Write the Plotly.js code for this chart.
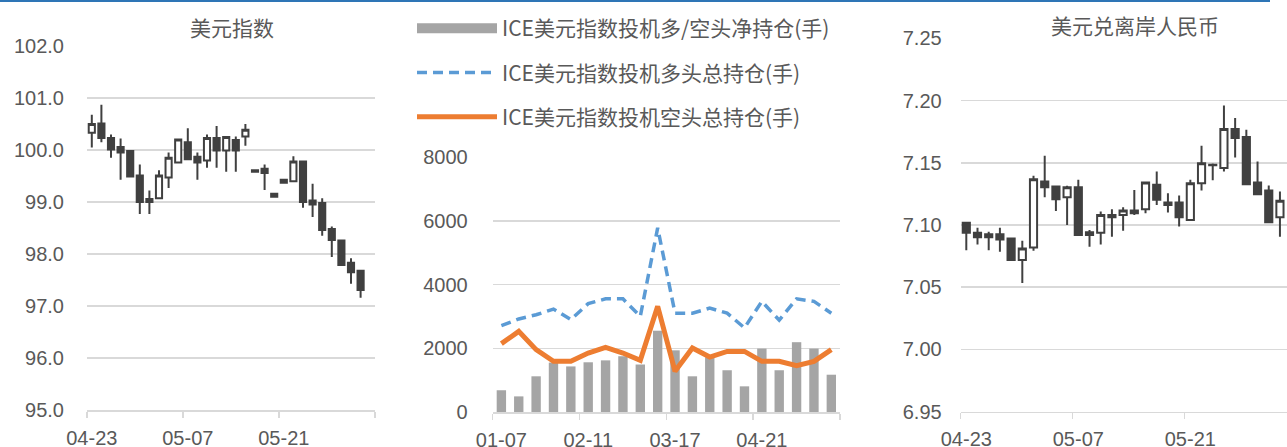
<!DOCTYPE html>
<html>
<head>
<meta charset="utf-8">
<script src="https://cdn.plot.ly/plotly-3.0.1.min.js"></script>
<style>
  html, body { margin: 0; padding: 0; background: #fff; }
  #chart { width: 1287px; height: 447px; }
</style>
</head>
<body>
<div id="chart"></div>
<script>
// daily trading dates (shared by the two candlestick panels)
const dates = ['04-23', '04-24', '04-25', '04-28', '04-29', '04-30', '05-01', '05-02', '05-05', '05-06',
    '05-07', '05-08', '05-09', '05-12', '05-13', '05-14', '05-15', '05-16', '05-19', '05-20',
    '05-21', '05-22', '05-23', '05-26', '05-27', '05-28', '05-29', '05-30', '06-02'];

// 美元指数 OHLC
const dxyOpen = [100.33, 100.51, 100.23, 100.06, 99.98, 99.51, 99.06, 99.07, 99.47, 99.76,
    100.15, 99.87, 99.80, 100.23, 99.99, 100.19, 100.26, 99.61, 99.64, 99.16,
    99.43, 99.40, 99.78, 99.03, 98.98, 98.48, 98.26, 97.83, 97.68];
const dxyHigh = [100.68, 100.87, 100.30, 100.22, 99.99, 99.72, 99.22, 99.61, 99.95, 100.20,
    100.42, 99.95, 100.30, 100.46, 100.25, 100.26, 100.50, 99.62, 99.72, 99.16,
    99.43, 99.88, 99.80, 99.35, 99.07, 98.53, 98.26, 97.92, 97.69];
const dxyLow = [100.05, 100.15, 99.85, 99.43, 99.48, 98.77, 98.77, 99.06, 99.27, 99.74,
    99.81, 99.43, 99.66, 99.66, 99.58, 99.58, 100.08, 99.57, 99.23, 99.10,
    99.37, 99.38, 98.89, 98.71, 98.35, 97.94, 97.78, 97.43, 97.16];
const dxyClose = [100.50, 100.23, 100.01, 99.95, 99.49, 99.00, 99.00, 99.51, 99.85, 100.20,
    99.82, 99.76, 100.23, 99.99, 100.25, 99.99, 100.39, 99.58, 99.56, 99.10,
    99.37, 99.78, 99.00, 98.95, 98.46, 98.27, 97.79, 97.65, 97.31];

// 美元兑离岸人民币 OHLC
const cnhOpen = [7.1019, 7.0938, 7.0925, 7.0925, 7.0892, 7.0718, 7.0820, 7.1349, 7.1309, 7.1223,
    7.1304, 7.0941, 7.0938, 7.1081, 7.1081, 7.1116, 7.1126, 7.1323, 7.1180, 7.1180,
    7.1040, 7.1336, 7.1485, 7.1457, 7.1772, 7.1707, 7.1341, 7.1277, 7.1062];
const cnhHigh = [7.1027, 7.0978, 7.0946, 7.0978, 7.0892, 7.0874, 7.1395, 7.1556, 7.1315, 7.1315,
    7.1363, 7.0960, 7.1108, 7.1126, 7.1142, 7.1282, 7.1349, 7.1430, 7.1255, 7.1237,
    7.1363, 7.1637, 7.1495, 7.1960, 7.1860, 7.1766, 7.1510, 7.1317, 7.1269];
const cnhLow = [7.0798, 7.0844, 7.0798, 7.0785, 7.0718, 7.0535, 7.0793, 7.1223, 7.1113, 7.1000,
    7.0919, 7.0825, 7.0844, 7.0906, 7.0954, 7.1081, 7.1094, 7.1161, 7.1100, 7.0987,
    7.1035, 7.1277, 7.1360, 7.1430, 7.1543, 7.1323, 7.1242, 7.1019, 7.0906];
const cnhClose = [7.0938, 7.0901, 7.0901, 7.0884, 7.0718, 7.0812, 7.1368, 7.1304, 7.1207, 7.1304,
    7.0919, 7.0919, 7.1081, 7.1062, 7.1116, 7.1094, 7.1341, 7.1202, 7.1161, 7.1062,
    7.1336, 7.1497, 7.1480, 7.1772, 7.1699, 7.1328, 7.1247, 7.1022, 7.1194];

// ICE positions, weekly
const weeks = ['01-07', '01-14', '01-21', '01-28', '02-04', '02-11', '02-18', '02-25', '03-04', '03-11',
    '03-17', '03-25', '04-01', '04-08', '04-15', '04-21', '04-29', '05-06', '05-13', '05-20'];
const netPos = [680, 490, 1120, 1550, 1430, 1560, 1620, 1750, 1490, 2550,
    1935, 1120, 1720, 1310, 805, 1990, 1310, 2190, 1990, 1170];
const longPos = [2710, 2920, 3050, 3230, 2900, 3400, 3550, 3550, 3000, 5775,
    3100, 3100, 3260, 3100, 2640, 3470, 2880, 3550, 3470, 3100];
const shortPos = [2145, 2530, 1955, 1590, 1590, 1850, 2030, 1850, 1620, 3315,
    1275, 2010, 1725, 1900, 1900, 1590, 1590, 1450, 1590, 1955];

const W = 1287, H = 447;
const px = v => v / W;          // horizontal pixel -> paper
const py = v => 1 - v / H;      // vertical pixel -> paper

const dark = '#404040';
const grid = '#D9D9D9';
const txt = '#595959';
const tickFont = {family: 'Liberation Sans, Arial, sans-serif', size: 20, color: txt};
const cjkFont = {family: 'Noto Sans CJK SC, sans-serif', size: 21, color: txt};

const dayIdx = dates.map((d, i) => i);
const weekIdx = weeks.map((d, i) => i);

function candle(xa, ya, o, h, l, c) {
    return {
        type: 'candlestick', x: dayIdx, open: o, high: h, low: l, close: c,
        xaxis: xa, yaxis: ya, showlegend: false, whiskerwidth: 0,
        line: {width: 2},
        increasing: {line: {color: dark, width: 2}, fillcolor: '#ffffff'},
        decreasing: {line: {color: dark, width: 2}, fillcolor: dark}
    };
}

let traces = [
    candle('x', 'y', dxyOpen, dxyHigh, dxyLow, dxyClose),
    candle('x3', 'y3', cnhOpen, cnhHigh, cnhLow, cnhClose),
    {
        type: 'bar', x: weekIdx, y: netPos, xaxis: 'x2', yaxis: 'y2',
        marker: {color: '#A5A5A5'}, showlegend: false
    },
    // legend entry for the bars (wide grey swatch like the original)
    {
        type: 'scatter', mode: 'lines', x: [null], y: [null], xaxis: 'x2', yaxis: 'y2',
        name: 'ICE美元指数投机多/空头净持仓(手)', legendgroup: 'a',
        line: {color: '#A5A5A5', width: 12}
    },
    {
        type: 'scatter', mode: 'lines', x: weekIdx, y: longPos, xaxis: 'x2', yaxis: 'y2',
        name: 'ICE美元指数投机多头总持仓(手)', legendgroup: 'b',
        line: {color: '#5B9BD5', width: 3.5, dash: '10px,6px'}
    },
    {
        type: 'scatter', mode: 'lines', x: weekIdx, y: shortPos, xaxis: 'x2', yaxis: 'y2',
        name: 'ICE美元指数投机空头总持仓(手)', legendgroup: 'c',
        line: {color: '#ED7D31', width: 5}
    }
];

function xAxis(domain, range, labels, step, n, standoff) {
    let vals = [], bounds = [];
    for (let i = 0; i < n; i += step) vals.push(i);
    for (let i = 0; i <= n; i += step) bounds.push(i - 0.5);
    return {
        domain: domain, range: range, tickmode: 'array',
        tickvals: vals, ticktext: vals.map(i => labels[i]),
        ticks: '', showgrid: false, zeroline: false,
        showline: true, linecolor: grid, linewidth: 1.5,
        minor: {tickmode: 'array', tickvals: bounds, ticks: 'outside', ticklen: 6,
            tickcolor: grid, tickwidth: 1.5, showgrid: false},
        tickfont: tickFont, ticklabelstandoff: standoff,
        rangeslider: {visible: false}, fixedrange: true
    };
}

function yAxis(domain, range, dtick, fmt, standoff, anchor) {
    return {
        domain: domain, range: range, dtick: dtick, tick0: range[0], tickformat: fmt,
        showgrid: true, gridcolor: grid, gridwidth: 1.5, zeroline: false, showline: false,
        ticks: '', tickfont: tickFont, ticklabelstandoff: standoff, anchor: anchor, fixedrange: true
    };
}

let layout = {
    width: W, height: H,
    margin: {l: 0, r: 0, t: 0, b: 0},
    paper_bgcolor: '#ffffff', plot_bgcolor: 'rgba(0,0,0,0)',
    boxgap: 0.2, boxgroupgap: 0.2, bargap: 0.46,
    xaxis: xAxis([px(87), px(375)], [-0.5, 29.5], dates, 10, 30, 9),
    yaxis: yAxis([py(410), py(46)], [95, 102], 1, '.1f', 22, 'x'),
    xaxis2: Object.assign(xAxis([px(492.7), px(840)], [-0.5, 19.5], weeks, 5, 20, 9), {anchor: 'y2'}),
    yaxis2: yAxis([py(412), py(157)], [0, 8000], 2000, 'd', 24, 'x2'),
    xaxis3: Object.assign(xAxis([px(960.7), 1], [-0.5, 28.63], dates, 10, 30, 9), {anchor: 'y3'}),
    yaxis3: yAxis([py(411.7), py(38.3)], [6.95, 7.25], 0.05, '.2f', 18, 'x3'),
    legend: {
        x: px(412), y: py(8), xanchor: 'left', yanchor: 'top',
        font: cjkFont, itemwidth: 80, traceorder: 'grouped', tracegroupgap: 14,
        bgcolor: 'rgba(0,0,0,0)'
    },
    annotations: [
        {text: '美元指数', xref: 'paper', yref: 'paper', x: px(232), y: py(27),
            xanchor: 'center', yanchor: 'middle', showarrow: false, font: cjkFont},
        {text: '美元兑离岸人民币', xref: 'paper', yref: 'paper', x: px(1135), y: py(25),
            xanchor: 'center', yanchor: 'middle', showarrow: false, font: cjkFont}
    ],
    shapes: [
        {type: 'line', xref: 'paper', yref: 'paper', x0: 0, x1: px(1270), y0: py(1), y1: py(1),
            line: {color: '#2E75B6', width: 2}}
    ]
};

Plotly.newPlot('chart', traces, layout, {displayModeBar: false, staticPlot: true});
</script>
</body>
</html>
